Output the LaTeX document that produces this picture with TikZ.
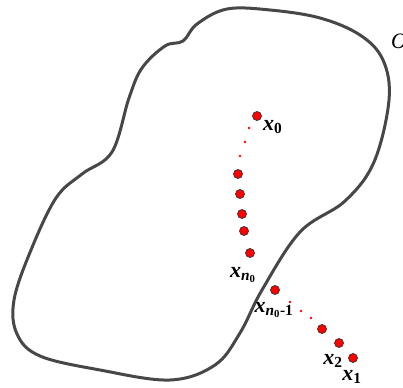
\documentclass[tikz,border=0pt]{standalone}
\usepackage{fontspec}
\setmainfont{Liberation Serif}
\begin{document}
\begin{tikzpicture}[x=1pt,y=-1pt,
  bigdot/.style={circle,fill=red,draw=black!80,line width=0.7pt,inner sep=0pt,minimum size=9pt},
  smalldot/.style={circle,fill=red,inner sep=0pt,minimum size=2.6pt},
  lbl/.style={font=\fontsize{22}{24}\selectfont\bfseries\itshape,inner sep=0pt},
  outline/.style={draw=black!72,line width=3pt,line join=round}]
\useasboundingbox (0,0) rectangle (403,387);
\draw[outline] plot[smooth cycle,tension=0.6] coordinates {
 (183,41) (165,46) (142,68) (129,98) (112,152) (82,174) (56,198) (31,250)
 (14,300) (17,334) (40,356) (100,370) (170,380) (215,365) (240,333)
 (262,290) (300,232) (345,201) (374,162) (389,100) (383,60) (360,35)
 (320,18) (270,10) (227,9) (197,24)};
% inner chain
\node[bigdot] (p0) at (257,116) {};
\node[smalldot] (s1) at (249,128) {};
\node[smalldot] (s2) at (245,142) {};
\node[smalldot] (s3) at (240,156) {};
\node[bigdot] (q1) at (238,174) {};
\node[bigdot] (q2) at (240,194) {};
\node[bigdot] (q3) at (242,214) {};
\node[bigdot] (q4) at (244,231) {};
\node[bigdot] (pn) at (250,253) {};
% outer chain
\node[bigdot] (pm) at (275,290) {};
\node[smalldot] (t1) at (290,302) {};
\node[smalldot] (t2) at (301,311) {};
\node[smalldot] (t3) at (311,318) {};
\node[bigdot] (r3) at (322,329) {};
\node[bigdot] (p2) at (339,343) {};
\node[bigdot] (p1) at (353,358) {};
% labels
\node[lbl,anchor=west] (l0) at (263,127) {x{\upshape\textsubscript{0}}};
\node[lbl] (ln) at (243,275) {x\textsubscript{\itshape n\textsubscript{\upshape 0}}};
\node[lbl] (lm) at (274,310) {x\textsubscript{\itshape n\textsubscript{\upshape 0}\upshape -1}};
\node[lbl] (l2) at (333,361) {x{\upshape\textsubscript{2}}};
\node[lbl] (l1) at (352,377) {x{\upshape\textsubscript{1}}};
\node[font=\fontsize{22}{24}\selectfont\itshape,anchor=west,inner sep=0pt] (lO) at (391,41) {O};
\end{tikzpicture}
\end{document}
